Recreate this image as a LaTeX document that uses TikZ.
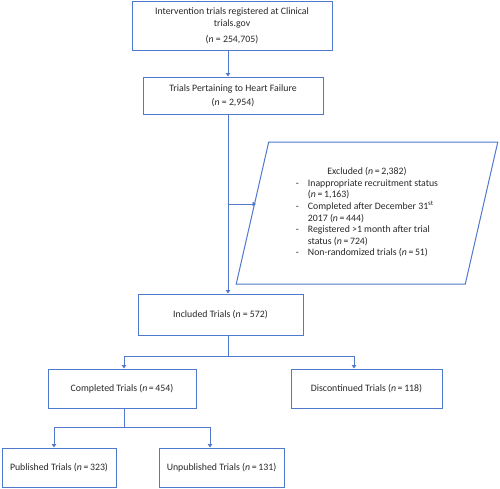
\documentclass[tikz,border=0pt]{standalone}
\usepackage{fontspec}
\setmainfont{Carlito}
\usetikzlibrary{arrows.meta,shapes.geometric}
\definecolor{flowblue}{RGB}{80,120,205}
\definecolor{flowtext}{RGB}{40,40,40}

\begin{document}
\begin{tikzpicture}
            [x=1pt,y=-1pt,every node/.style={draw=flowblue,line width=1pt,shape=rectangle,fill=white,inner sep=0,align=center,text=flowtext,font=\fontsize{9.8}{11.6}\selectfont},
             link/.style={draw=flowblue,line width=1pt,-{Triangle[width=4.5pt,length=3.5pt]}}, wire/.style={draw=flowblue,line width=1pt}]

            \useasboundingbox (0,0) rectangle (500,488);
            \coordinate (spine) at (228,0);

            \node[minimum width=200,minimum height=49] (reg) at (232,26) {Intervention trials registered at Clinical\\trials.gov\\[4.5pt](\textit{n} = 254,705)};
            \node[minimum width=180,minimum height=37] (hf) at (233,95.5) {Trials Pertaining to Heart Failure\\[2.5pt](\textit{n} = 2,954)};
            \node[trapezium,trapezium left angle=75.8,trapezium right angle=104.2,trapezium stretches=true,minimum width=262,minimum height=142] (excl) at (367,213)
              {\begin{tabular}{@{}l@{\hspace{9pt}}l@{}}
                \multicolumn{2}{c}{Excluded (\textit{n}\,=\,2,382)}\\
                - & Inappropriate recruitment status\\
                  & (\textit{n}\,=\,1,163)\\
                - & Completed after December 31\textsuperscript{st}\\
                  & 2017 (\textit{n}\,=\,444)\\
                - & Registered >1 month after trial\\
                  & status (\textit{n}\,=\,724)\\
                - & Non-randomized trials (\textit{n}\,=\,51)
              \end{tabular}};
            \node[minimum width=165,minimum height=41] (inc) at (220.5,314.5) {Included Trials (\textit{n} = 572)};
            \node[minimum width=148,minimum height=39] (comp) at (122,388.5) {Completed Trials (\textit{n}\,=\,454)};
            \node[minimum width=151,minimum height=39] (disc) at (366.5,388.5) {Discontinued Trials (\textit{n}\,=\,118)};
            \node[minimum width=114,minimum height=39] (pub) at (59,467.5) {Published Trials (\textit{n}\,=\,323)};
            \node[minimum width=125,minimum height=39] (unpub) at (221.5,467.5) {Unpublished Trials (\textit{n}\,=\,131)};

            \coordinate (exclin) at (256,204);
            \coordinate (split1) at (228,356);
            \coordinate (left1) at (124,356);
            \coordinate (right1) at (354,356);
            \coordinate (split2) at (124,427);
            \coordinate (left2) at (54,427);
            \coordinate (right2) at (210,427);

            \draw[link] (reg.south -| spine) -- (hf.north -| spine);
            \draw[link] (hf.south -| spine) -- (inc.north -| spine);
            \draw[link] (spine |- exclin) -- (exclin);
            \draw[wire] (inc.south -| spine) -- (split1);
            \draw[link] (split1) -| (left1 |- comp.north);
            \draw[link] (split1) -| (right1 |- disc.north);
            \draw[wire] (comp.south -| split2) -- (split2);
            \draw[link] (split2) -| (left2 |- pub.north);
            \draw[link] (split2) -| (right2 |- unpub.north);
          \end{tikzpicture}
\end{document}
